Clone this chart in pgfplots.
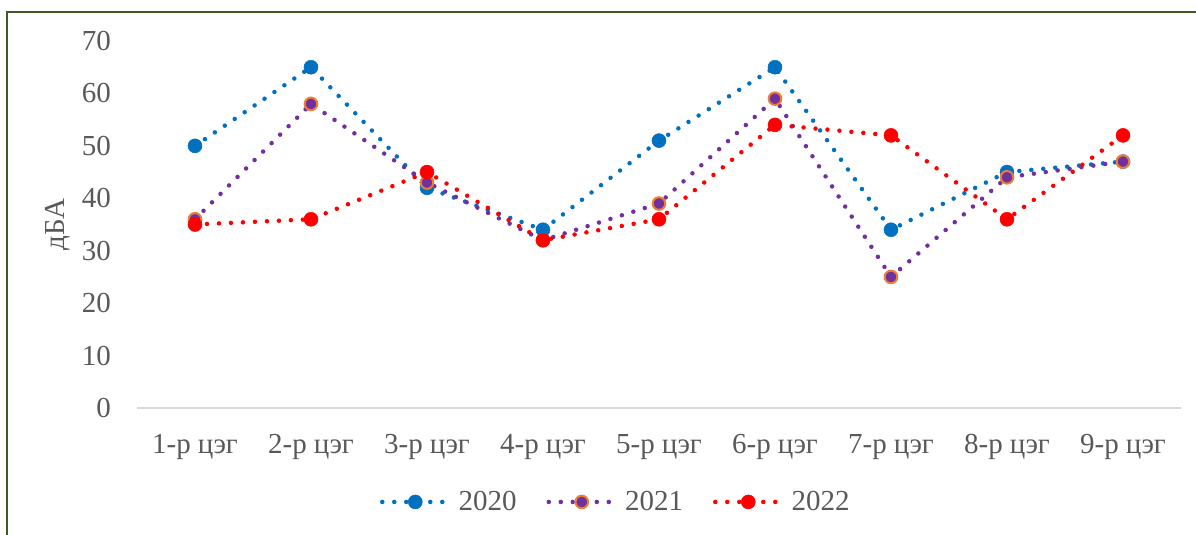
\documentclass[border=0pt]{standalone}
\usepackage{fontspec}
\setmainfont{Liberation Serif}
\usepackage{pgfplots}
\pgfplotsset{compat=1.18}

\definecolor{c20}{HTML}{0070C0}
\definecolor{c21}{HTML}{7030A0}
\definecolor{c21edge}{HTML}{ED7D31}
\definecolor{c22}{HTML}{FF0000}
\definecolor{textgray}{HTML}{595959}
\definecolor{axisgray}{HTML}{D9D9D9}
\definecolor{framegreen}{RGB}{62,90,40}

\newcommand{\chartfont}{\fontsize{29pt}{34pt}\selectfont}

\pgfplotsset{
  dotline/.style={line width=4.5pt, line cap=round, dash pattern=on 0pt off 12pt},
}

\begin{document}
\begin{tikzpicture}
\path[use as bounding box] (0,0) rectangle (1196pt,535pt);
\fill[white] (0,0) rectangle (1196pt,535pt);
% page frame
\draw[framegreen, line width=2.5pt] (7pt,0) -- (7pt,523pt) -- (1196pt,523pt);

\begin{axis}[
  at={(137pt,127pt)}, anchor=south west,
  scale only axis, width=1044pt, height=367pt,
  clip=false,
  xmin=0.5, xmax=9.5, ymin=0, ymax=70,
  xtick={1,...,9},
  xticklabels={1-р цэг,2-р цэг,3-р цэг,4-р цэг,5-р цэг,6-р цэг,7-р цэг,8-р цэг,9-р цэг},
  ytick={0,10,...,70},
  axis x line*=bottom, axis y line*=left,
  x axis line style={draw=axisgray, line width=1.5pt, -},
  y axis line style={draw=none},
  major tick length=0pt, tick style={draw=none},
  /pgf/number format/assume math mode=true,
  ticklabel style={font=\chartfont, text=textgray, inner sep=0pt},
  yticklabel style={anchor=east, xshift=-26pt},
  xticklabel style={anchor=base, yshift=-45pt},
  ylabel={дБА},
  every axis y label/.style={at={(axis description cs:-0.0757,0.5)}, rotate=90, anchor=center, font=\chartfont, text=textgray},
  legend columns=-1,
  legend image code/.code={%
    \draw[mark repeat=2, mark phase=2, #1] plot coordinates {(0pt,0pt) (33pt,0pt) (66pt,0pt)};},
  legend style={at={(axis description cs:0.2328,-0.256)}, anchor=west,
    draw=none, fill=none, inner sep=0pt, outer sep=0pt,
    font=\chartfont, text=textgray,
    nodes={inner sep=0pt},
    /tikz/every odd column/.append style={column sep=8pt},
    /tikz/every even column/.append style={column sep=30pt}},
]
\addplot[c20, dotline, mark=*, mark size=7pt,
  mark options={solid, fill=c20, draw=c20, line width=0.5pt}]
  coordinates {(1,50) (2,65) (3,42) (4,34) (5,51) (6,65) (7,34) (8,45) (9,47)};
\addlegendentry{2020}
\addplot[c21, dotline, mark=*, mark size=6.3pt,
  mark options={solid, fill=c21, draw=c21edge, line width=2pt}]
  coordinates {(1,36) (2,58) (3,43) (4,32) (5,39) (6,59) (7,25) (8,44) (9,47)};
\addlegendentry{2021}
\addplot[c22, dotline, mark=*, mark size=7pt,
  mark options={solid, fill=c22, draw=c22, line width=0.5pt}]
  coordinates {(1,35) (2,36) (3,45) (4,32) (5,36) (6,54) (7,52) (8,36) (9,52)};
\addlegendentry{2022}
\end{axis}
\end{tikzpicture}
\end{document}
